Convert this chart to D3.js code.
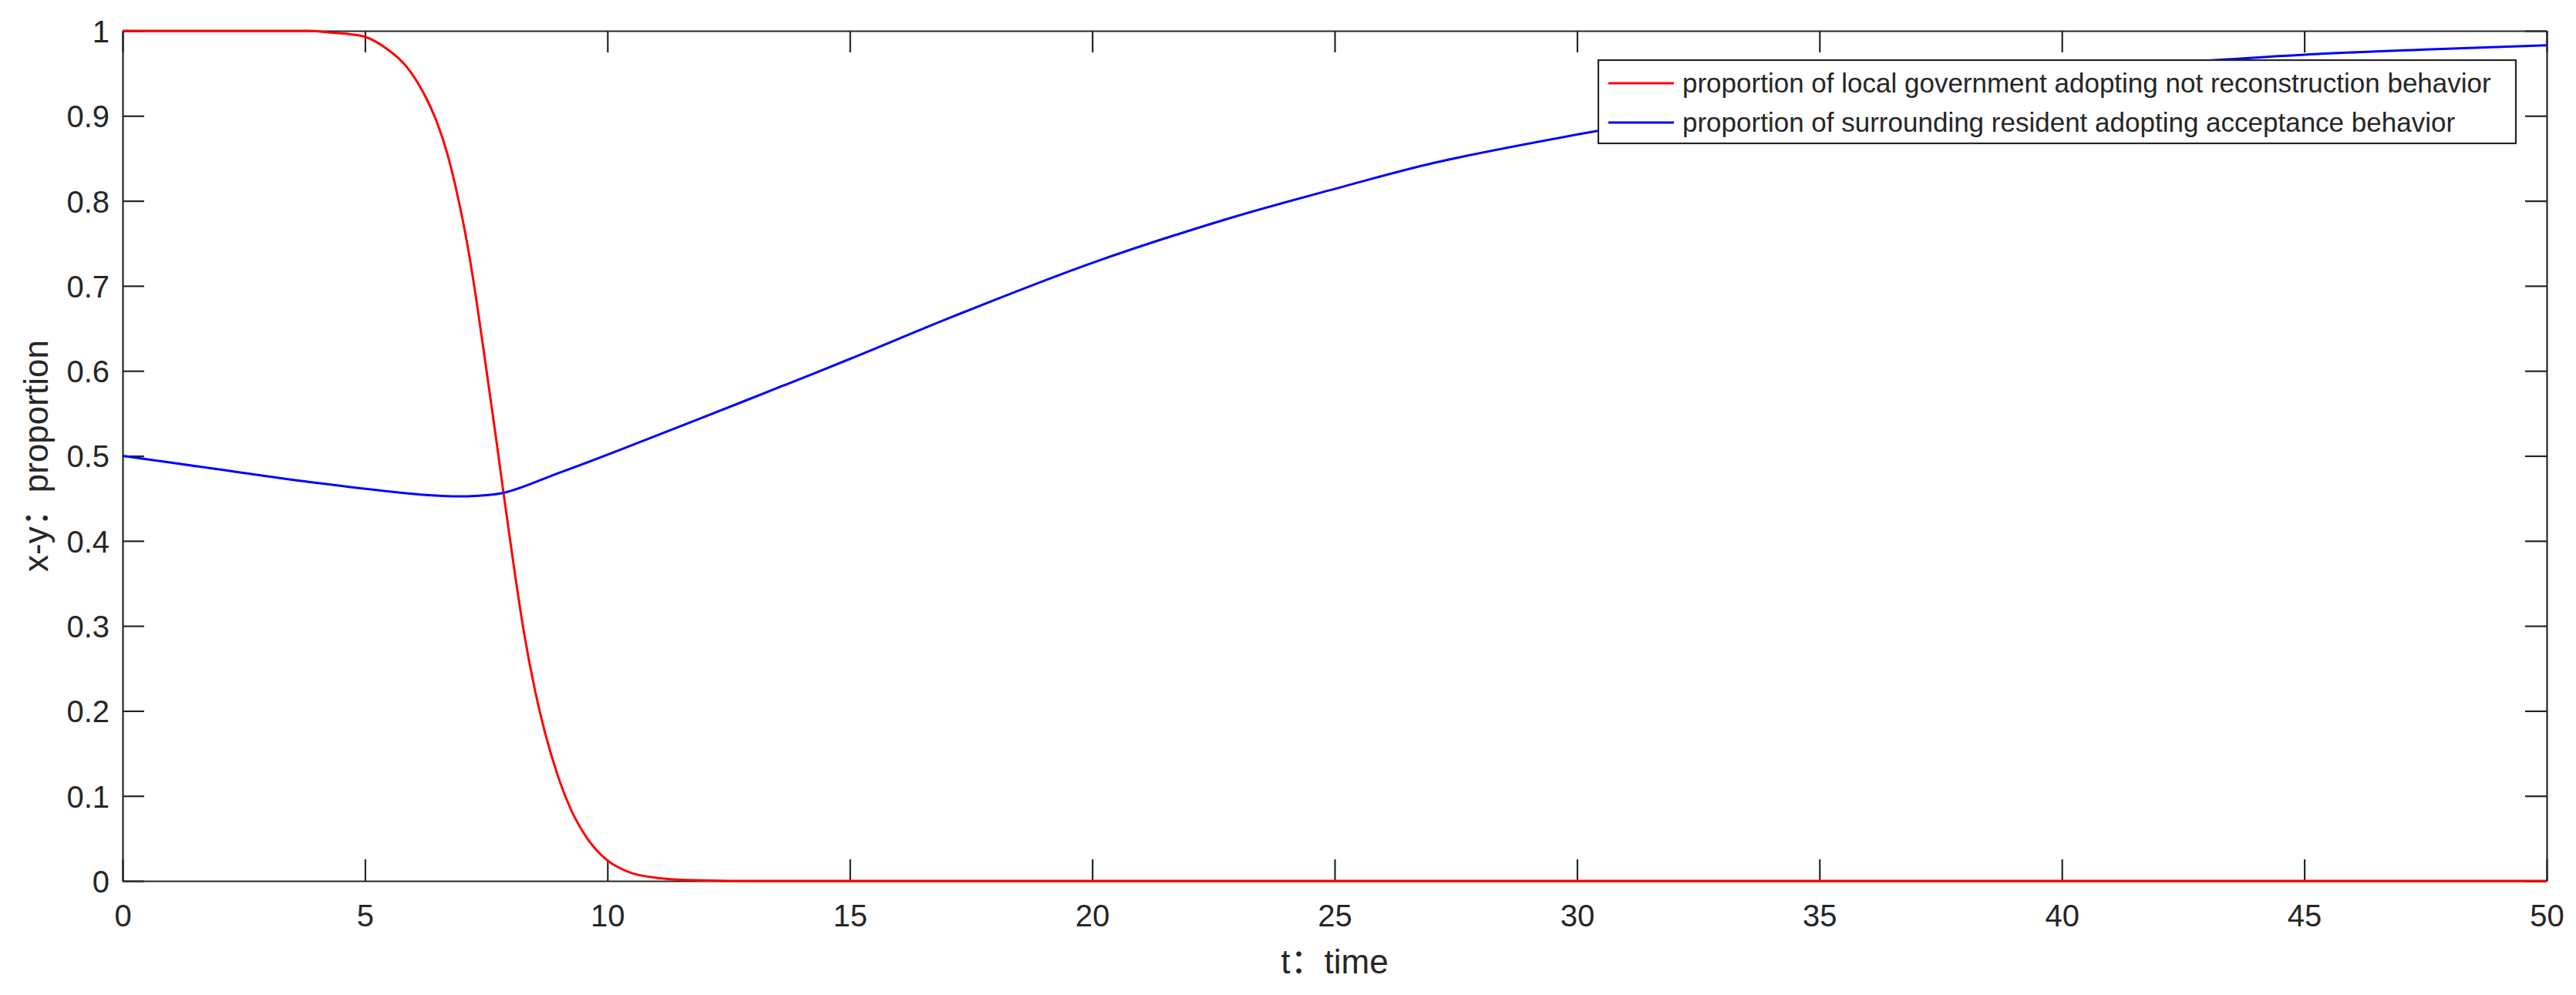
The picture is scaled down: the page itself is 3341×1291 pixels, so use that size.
<!DOCTYPE html>
<html>
<head>
<meta charset="utf-8">
<script src="https://cdn.jsdelivr.net/npm/d3@7"></script>
<style>
  html, body { margin: 0; padding: 0; background: #ffffff; }
  svg { display: block; }
  text { font-family: "Liberation Sans", Arial, "Noto Sans CJK SC", sans-serif; fill: #262626; }
</style>
</head>
<body>
<svg id="chart" width="3341" height="1291"></svg>
<script>
// ---- data ----
const tRed = [0, 1, 2, 3, 3.8, 4.3, 4.7, 5.0, 5.42, 5.95, 6.27, 6.48, 6.70, 6.91, 7.12, 7.28, 7.49, 7.71, 7.86, 8.07, 8.28, 8.50, 8.71, 8.97, 9.24, 9.56, 9.98, 10.46, 11.04, 11.8, 12.5, 15, 20, 30, 40, 50];
const xRed = [1, 1, 1, 1, 1, 0.998, 0.996, 0.993, 0.980, 0.951, 0.920, 0.893, 0.855, 0.806, 0.746, 0.690, 0.607, 0.518, 0.455, 0.370, 0.292, 0.226, 0.175, 0.125, 0.085, 0.052, 0.025, 0.010, 0.0035, 0.0008, 0.0001, 0, 0, 0, 0, 0];
const tBlue = [0, 1.9, 4.03, 6.15, 7.09, 7.87, 9.0, 10.14, 12.87, 15, 17.13, 20, 22.8, 25, 27.07, 30, 32.5, 35, 37.5, 40, 42.5, 45, 47.5, 50];
const yBlue = [0.5, 0.4848, 0.468, 0.4545, 0.4524, 0.4567, 0.480, 0.5044, 0.5655, 0.614, 0.664, 0.727, 0.779, 0.814, 0.845, 0.878, 0.902, 0.922, 0.939, 0.952, 0.963, 0.972, 0.978, 0.983];
const seriesNames = ["proportion of local government adopting not reconstruction behavior",
                     "proportion of surrounding resident adopting acceptance behavior"];
const seriesColors = ["#ff0000", "#0000ff"];
const xTickValues = [0, 5, 10, 15, 20, 25, 30, 35, 40, 45, 50];
const xTickLabels = ["0", "5", "10", "15", "20", "25", "30", "35", "40", "45", "50"];
const yTickValues = [0, 0.1, 0.2, 0.3, 0.4, 0.5, 0.6, 0.7, 0.8, 0.9, 1];
const yTickLabels = ["0", "0.1", "0.2", "0.3", "0.4", "0.5", "0.6", "0.7", "0.8", "0.9", "1"];
const xLabel = "t：time";
const yLabel = "x-y：proportion";

// ---- layout ----
const L = 159, R = 3303, T = 40, B = 1143;
const axisColor = "#262626";
const svg = d3.select("#chart");

const x = d3.scaleLinear().domain([0, 50]).range([L, R]);
const y = d3.scaleLinear().domain([0, 1]).range([B, T]);

function styleAxis(g) {
  g.selectAll(".domain").attr("stroke", axisColor).attr("stroke-width", 2.2);
  g.selectAll(".tick line").attr("stroke", axisColor).attr("stroke-width", 2.2);
  g.selectAll(".tick text").attr("fill", axisColor)
    .style("font-family", "'Liberation Sans', Arial, sans-serif")
    .style("font-size", "40px");
}

// bottom axis
const gB = svg.append("g").attr("transform", `translate(0,${B})`)
  .call(d3.axisBottom(x).tickValues(xTickValues).tickFormat((d, i) => xTickLabels[i])
    .tickSizeInner(-28).tickSizeOuter(0).tickPadding(31));
styleAxis(gB);
// top axis (mirrored ticks, no labels)
const gT = svg.append("g").attr("transform", `translate(0,${T})`)
  .call(d3.axisTop(x).tickValues(xTickValues).tickFormat("")
    .tickSizeInner(-28).tickSizeOuter(0));
styleAxis(gT);
// left axis
const gL = svg.append("g").attr("transform", `translate(${L},0)`)
  .call(d3.axisLeft(y).tickValues(yTickValues).tickFormat((d, i) => yTickLabels[i])
    .tickSizeInner(-28).tickSizeOuter(0).tickPadding(17));
styleAxis(gL);
gL.selectAll(".tick text").attr("dy", "0.36em");
// right axis
const gR = svg.append("g").attr("transform", `translate(${R},0)`)
  .call(d3.axisRight(y).tickValues(yTickValues).tickFormat("")
    .tickSizeInner(-28).tickSizeOuter(0));
styleAxis(gR);

// axis labels
svg.append("text")
  .attr("x", (L + R) / 2).attr("y", 1263)
  .attr("text-anchor", "middle")
  .style("font-size", "44px")
  .text(xLabel);
svg.append("text")
  .attr("transform", `translate(62,${(T + B) / 2}) rotate(-90)`)
  .attr("text-anchor", "middle")
  .style("font-size", "44px")
  .text(yLabel);

// lines
const lineRed = d3.line().x(d => x(d[0])).y(d => y(d[1])).curve(d3.curveMonotoneX);
const lineBlue = d3.line().x(d => x(d[0])).y(d => y(d[1])).curve(d3.curveCatmullRom.alpha(0.5));
const redData = tRed.map((t, i) => [t, xRed[i]]);
const blueData = tBlue.map((t, i) => [t, yBlue[i]]);
svg.append("path").datum(redData).attr("d", lineRed)
  .attr("fill", "none").attr("stroke", seriesColors[0]).attr("stroke-width", 3);
svg.append("path").datum(blueData).attr("d", lineBlue)
  .attr("fill", "none").attr("stroke", seriesColors[1]).attr("stroke-width", 3);

// legend
const lg = svg.append("g");
lg.append("rect").attr("x", 2073).attr("y", 78).attr("width", 1190).attr("height", 108)
  .attr("fill", "#ffffff").attr("stroke", axisColor).attr("stroke-width", 2.2);
const rowsY = [108, 159];
seriesNames.forEach((name, i) => {
  lg.append("line").attr("x1", 2086).attr("x2", 2171).attr("y1", rowsY[i]).attr("y2", rowsY[i])
    .attr("stroke", seriesColors[i]).attr("stroke-width", 3);
  lg.append("text").attr("x", 2182).attr("y", rowsY[i]).attr("dy", "0.35em")
    .style("font-size", "35px").attr("fill", "#000000")
    .text(name);
});
</script>
</body>
</html>
